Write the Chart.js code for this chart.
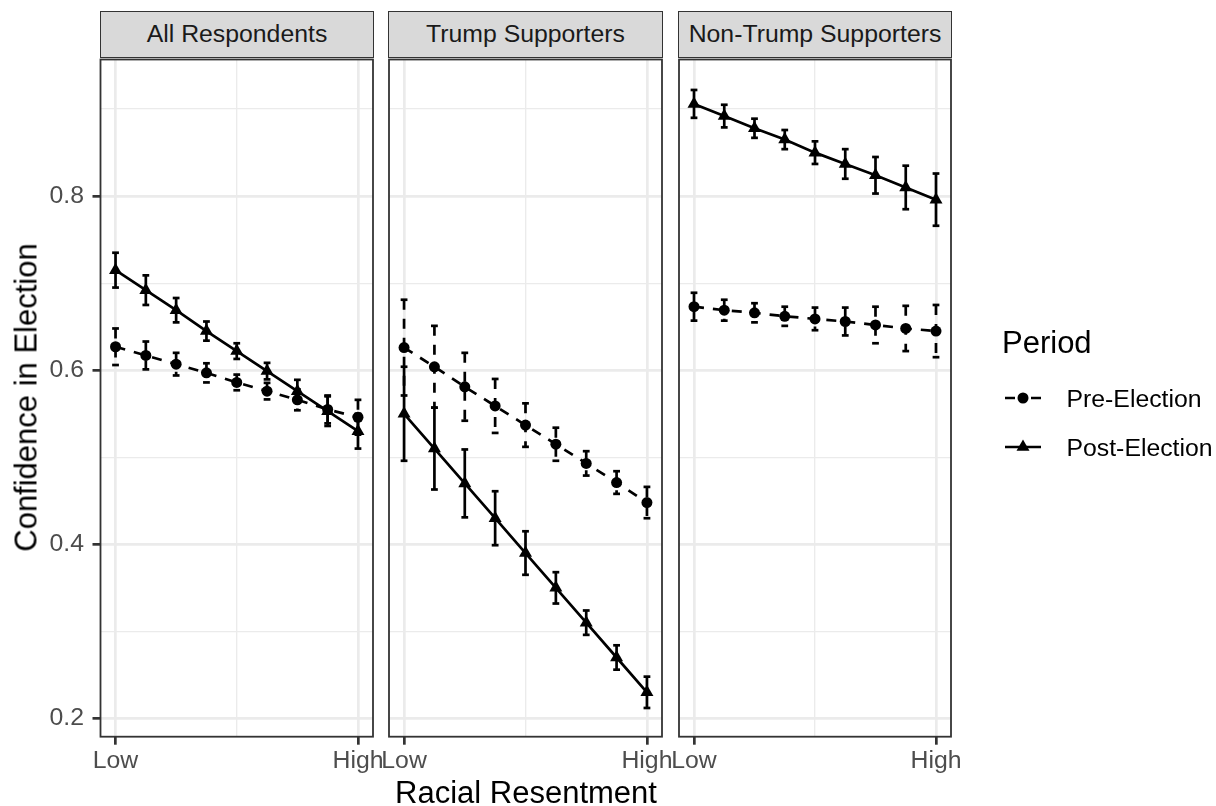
<!DOCTYPE html>
<html>
<head>
<meta charset="utf-8">
<script src="https://cdn.jsdelivr.net/npm/chart.js@4.4.1/dist/chart.umd.min.js"></script>
<style>
  html, body { margin: 0; padding: 0; background: #fff; }
  body { width: 1216px; height: 806px; position: relative; overflow: hidden;
         font-family: "Liberation Sans", Arial, sans-serif; }
  canvas { position: absolute; }
  .strip { position: absolute; top: 11px; height: 47px; box-sizing: border-box;
           background: #d9d9d9; border: 1.8px solid #333333; color: #1a1a1a;
           font-size: 24.8px; line-height: 43.4px; text-align: center; white-space: nowrap; }
  .ttl { position: absolute; color: #000; font-size: 31px; line-height: 31px;
         text-align: center; white-space: nowrap; }
</style>
</head>
<body>
<div class="strip" id="s1" style="left:100px;width:274px"></div>
<div class="strip" id="s2" style="left:388px;width:275px"></div>
<div class="strip" id="s3" style="left:678px;width:274px"></div>

<canvas id="p1" width="389" height="738" style="left:0px;top:52px;width:389px;height:738px"></canvas>
<canvas id="p2" width="300" height="738" style="left:376px;top:52px;width:300px;height:738px"></canvas>
<canvas id="p3" width="550" height="738" style="left:666px;top:52px;width:550px;height:738px"></canvas>

<div class="ttl" id="ytitle" style="left:-174px;top:381.5px;width:400px;height:31px;transform:rotate(-90deg)"></div>
<div class="ttl" id="xtitle" style="left:226px;top:776.8px;width:600px;height:31px"></div>

<script>
// ---- data ----
const panelTitles = ['All Respondents', 'Trump Supporters', 'Non-Trump Supporters'];
const periods = ['Pre-Election', 'Post-Election'];
const legendTitle = 'Period';
const xTitle = 'Racial Resentment';
const yTitle = 'Confidence in Election';

// nine resentment levels, Low (0) to High (1)
const resentLevels = [0, 0.125, 0.25, 0.375, 0.5, 0.625, 0.75, 0.875, 1];
const xTickValues = [0, 1];
const xTickLabels = ['Low', 'High'];
const xMinorTicks = [0.5];
const yMajorTicks = [0.2, 0.4, 0.6, 0.8];
const yMinorTicks = [0.3, 0.5, 0.7, 0.9];

// All respondents
const allPre = [0.627, 0.617, 0.607, 0.597, 0.586, 0.576, 0.566, 0.555, 0.546];
const allPreMoe = [0.021, 0.016, 0.013, 0.011, 0.009, 0.0095, 0.012, 0.016, 0.020];
const allPost = [0.715, 0.692, 0.669, 0.645, 0.622, 0.599, 0.576, 0.553, 0.530];
const allPostMoe = [0.020, 0.017, 0.014, 0.011, 0.009, 0.0095, 0.013, 0.017, 0.020];

// Trump supporters
const trumpPre = [0.626, 0.604, 0.581, 0.559, 0.537, 0.515, 0.493, 0.471, 0.448];
const trumpPreMoe = [0.055, 0.047, 0.039, 0.031, 0.025, 0.019, 0.014, 0.013, 0.018];
const trumpPost = [0.550, 0.510, 0.470, 0.430, 0.390, 0.350, 0.310, 0.270, 0.230];
const trumpPostMoe = [0.054, 0.047, 0.039, 0.031, 0.025, 0.018, 0.014, 0.014, 0.018];

// Non-Trump supporters
const nonTrumpPre = [0.673, 0.669, 0.666, 0.662, 0.659, 0.656, 0.652, 0.648, 0.645];
const nonTrumpPreMoe = [0.016, 0.012, 0.011, 0.011, 0.013, 0.016, 0.021, 0.026, 0.030];
const nonTrumpPost = [0.906, 0.892, 0.878, 0.865, 0.850, 0.837, 0.824, 0.810, 0.796];
const nonTrumpPostMoe = [0.016, 0.013, 0.011, 0.011, 0.013, 0.017, 0.021, 0.025, 0.030];

// ---- drawing ----
const FONT = '"Liberation Sans", Arial, sans-serif';
const LW = 2.7;
const capHalf = 0.014;
const preDash = [10, 9];

let isIn = function (arr, v) {
    return arr.some(a => Math.abs(a - v) < 1e-9);
};

let toPoints = function (vals) {
    return vals.map((v, i) => ({ x: resentLevels[i], y: v }));
};

// box round each panel
const panelBox = {
    id: 'panelBox',
    afterDraw(chart) {
        const { ctx, chartArea: a } = chart;
        ctx.save();
        ctx.strokeStyle = '#333333';
        ctx.lineWidth = 1.8;
        ctx.strokeRect(a.left, a.top, a.right - a.left, a.bottom - a.top);
        ctx.restore();
    }
};

// error bars, each piece starts its own dash pattern like ggplot
const errorBars = {
    id: 'errorBars',
    afterDatasetsDraw(chart) {
        const ctx = chart.ctx;
        const xs = chart.scales.x, ys = chart.scales.y;
        ctx.save();
        ctx.strokeStyle = '#000';
        ctx.lineWidth = LW;
        chart.data.datasets.forEach(ds => {
            ds.data.forEach((p, i) => {
                const m = ds.moe[i];
                const xc = xs.getPixelForValue(p.x);
                const xl = xs.getPixelForValue(p.x - capHalf);
                const xr = xs.getPixelForValue(p.x + capHalf);
                const yt = ys.getPixelForValue(p.y + m);
                const yb = ys.getPixelForValue(p.y - m);
                [[xl, yt, xr, yt], [xc, yt, xc, yb], [xl, yb, xr, yb]].forEach(s => {
                    ctx.setLineDash(ds.borderDash || []);
                    ctx.lineDashOffset = 0;
                    ctx.beginPath();
                    ctx.moveTo(s[0], s[1]);
                    ctx.lineTo(s[2], s[3]);
                    ctx.stroke();
                });
            });
        });
        ctx.restore();
    }
};

// legend on the right of the last panel
const periodLegend = {
    id: 'periodLegend',
    afterDraw(chart) {
        const ctx = chart.ctx;
        const x0 = chart.chartArea.right;
        const top = chart.chartArea.top;  // 57.5 on the page
        ctx.save();
        ctx.fillStyle = '#000';
        ctx.strokeStyle = '#000';
        ctx.textBaseline = 'alphabetic';
        ctx.font = '31px ' + FONT;
        ctx.fillText(legendTitle, x0 + 51, top + 293.5);

        const keys = [
            { y: top + 338.5, dash: [10, 16], style: 'circle', r: 5.5 },
            { y: top + 387.5, dash: [], style: 'triangle', r: 7.5 }
        ];
        ctx.font = '24.8px ' + FONT;
        keys.forEach((k, i) => {
            ctx.lineWidth = LW;
            ctx.setLineDash(k.dash);
            ctx.beginPath();
            ctx.moveTo(x0 + 54, k.y);
            ctx.lineTo(x0 + 90, k.y);
            ctx.stroke();
            ctx.setLineDash([]);
            Chart.helpers.drawPoint(ctx, { pointStyle: k.style, radius: k.r, rotation: 0, borderWidth: 0 }, x0 + 72, k.y);
            ctx.fillText(periods[i], x0 + 115.5, k.y + 8.7);
        });
        ctx.restore();
    }
};

let scalesFor = function (showY) {
    return {
        x: {
            type: 'linear', min: -0.062, max: 1.062,
            afterBuildTicks: s => { s.ticks = xTickValues.concat(xMinorTicks).sort().map(v => ({ value: v })); },
            afterFit: s => { s.height = 53.3; s.paddingLeft = 0; s.paddingRight = 0; },
            border: { display: false },
            grid: {
                color: '#ebebeb',
                lineWidth: c => (c.tick && isIn(xTickValues, c.tick.value)) ? 2.7 : 1.35,
                tickLength: 8,
                tickWidth: 2.7,
                tickColor: c => (c.tick && isIn(xTickValues, c.tick.value)) ? '#333333' : 'rgba(0,0,0,0)'
            },
            ticks: {
                autoSkip: false, maxRotation: 0, minRotation: 0, padding: 2,
                color: '#4d4d4d', font: { family: FONT, size: 24.8 },
                callback: v => {
                    const k = xTickValues.findIndex(t => Math.abs(t - v) < 1e-9);
                    return k >= 0 ? xTickLabels[k] : '';
                }
            }
        },
        y: {
            type: 'linear', min: 0.179, max: 0.957,
            afterBuildTicks: s => { s.ticks = yMajorTicks.concat(yMinorTicks).sort().map(v => ({ value: v })); },
            afterFit: s => { s.width = showY ? 100.5 : 0; s.paddingTop = 0; s.paddingBottom = 0; },
            border: { display: false },
            grid: {
                color: '#ebebeb',
                lineWidth: c => (c.tick && isIn(yMajorTicks, c.tick.value)) ? 2.7 : 1.35,
                drawTicks: showY,
                tickLength: 8,
                tickWidth: 2.7,
                tickColor: c => (c.tick && isIn(yMajorTicks, c.tick.value)) ? '#333333' : 'rgba(0,0,0,0)'
            },
            ticks: {
                display: showY, padding: 8.5,
                color: '#4d4d4d', font: { family: FONT, size: 24.8 },
                callback: v => isIn(yMajorTicks, v) ? v.toFixed(1) : ''
            }
        }
    };
};

let makePanel = function (id, pre, preMoe, post, postMoe, showY, padding, extraPlugins) {
    const ctx = document.getElementById(id).getContext('2d');
    return new Chart(ctx, {
        type: 'line',
        data: {
            datasets: [
                {
                    label: periods[0], data: toPoints(pre), moe: preMoe,
                    borderColor: '#000', backgroundColor: '#000', borderWidth: LW, borderDash: preDash,
                    pointStyle: 'circle', pointRadius: 5.5, pointBorderWidth: 0,
                    pointBackgroundColor: '#000', tension: 0, fill: false
                },
                {
                    label: periods[1], data: toPoints(post), moe: postMoe,
                    borderColor: '#000', backgroundColor: '#000', borderWidth: LW,
                    pointStyle: 'triangle', pointRadius: 7.5, pointBorderWidth: 0,
                    pointBackgroundColor: '#000', tension: 0, fill: false
                }
            ]
        },
        options: {
            responsive: false,
            animation: false,
            devicePixelRatio: 1,
            events: [],
            layout: { padding: padding },
            scales: scalesFor(showY),
            plugins: { legend: { display: false }, tooltip: { enabled: false } }
        },
        plugins: [errorBars, panelBox].concat(extraPlugins)
    });
};

document.getElementById('s1').textContent = panelTitles[0];
document.getElementById('s2').textContent = panelTitles[1];
document.getElementById('s3').textContent = panelTitles[2];
document.getElementById('xtitle').textContent = xTitle;
document.getElementById('ytitle').textContent = yTitle;

makePanel('p1', allPre, allPreMoe, allPost, allPostMoe, true,
    { left: 0, right: 16, top: 5.5, bottom: 0 }, []);
makePanel('p2', trumpPre, trumpPreMoe, trumpPost, trumpPostMoe, false,
    { left: 13, right: 14, top: 5.5, bottom: 0 }, []);
makePanel('p3', nonTrumpPre, nonTrumpPreMoe, nonTrumpPost, nonTrumpPostMoe, false,
    { left: 13, right: 265, top: 5.5, bottom: 0 }, [periodLegend]);
</script>
</body>
</html>
